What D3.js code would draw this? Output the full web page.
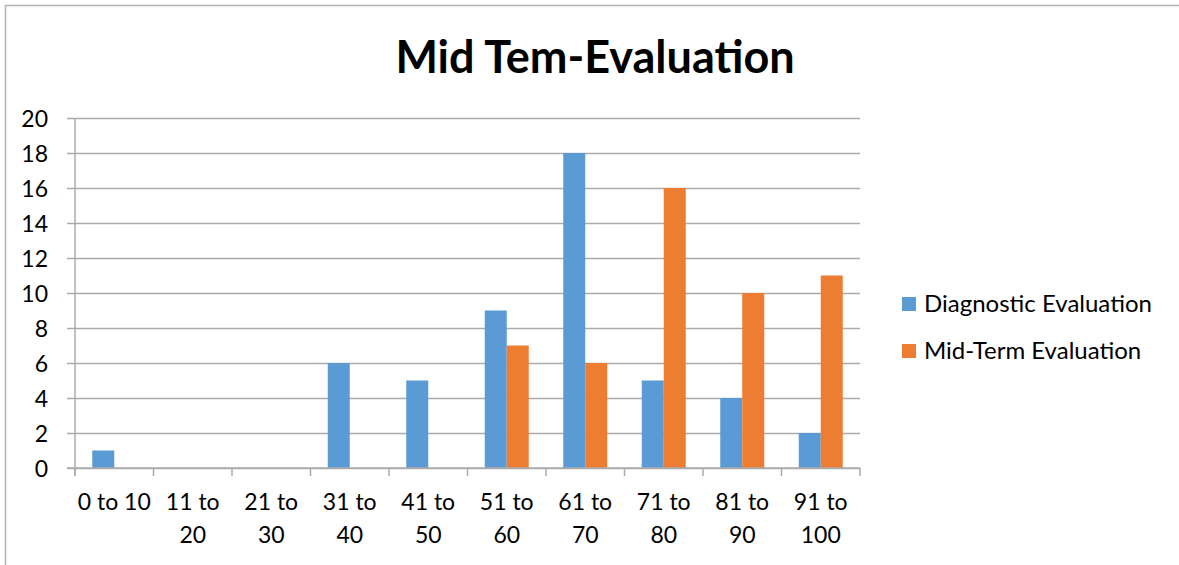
<!DOCTYPE html>
<html>
<head>
<meta charset="utf-8">
<script src="https://cdn.jsdelivr.net/npm/d3@7/dist/d3.min.js"></script>
<style>
  html, body { margin: 0; padding: 0; background: #fff; }
  svg { display: block; font-family: Lato, "Open Sans", sans-serif; }
</style>
</head>
<body>
<svg id="chart" width="1179" height="565"></svg>
<script>
// Score bands and the number of students in each
const categories = ["0 to 10", "11 to 20", "21 to 30", "31 to 40", "41 to 50",
                    "51 to 60", "61 to 70", "71 to 80", "81 to 90", "91 to 100"];
const diagnostic = [1, 0, 0, 6, 5, 9, 18, 5, 4, 2];
const midTerm    = [0, 0, 0, 0, 0, 7, 6, 16, 10, 11];
const seriesNames = ["Diagnostic Evaluation", "Mid-Term Evaluation"];
const seriesColors = ["#5B9BD5", "#ED7D31"];
const yTicks = [0, 2, 4, 6, 8, 10, 12, 14, 16, 18, 20];

const svg = d3.select("#chart");
const plot = { left: 75, right: 860, top: 118, bottom: 468 };

// Outer chart frame (top and left edges visible)
svg.append("path")
  .attr("d", "M5.5,565 V5.5 H1179")
  .attr("fill", "none")
  .attr("stroke", "#b3b3b3")
  .attr("stroke-width", 1.5);

// Title
svg.append("text")
  .attr("x", 595)
  .attr("y", 73)
  .attr("text-anchor", "middle")
  .attr("font-size", 45)
  .attr("font-weight", 700)
  .attr("fill", "#000")
  .text("Mid Tem-Evaluation");

const x0 = d3.scaleBand().domain(categories).range([plot.left, plot.right]).padding(0);
const x1 = d3.scaleBand().domain(seriesNames)
  .range([17.25, x0.bandwidth() - 17.25]).padding(0);
const y = d3.scaleLinear().domain([0, 20]).range([plot.bottom, plot.top]);

// Horizontal gridlines with outward ticks
const yAxis = svg.append("g")
  .attr("transform", `translate(${plot.left},0)`)
  .call(d3.axisLeft(y).tickValues(yTicks).tickSize(-(plot.right - plot.left)).tickSizeOuter(0).tickPadding(27));
yAxis.select(".domain").remove();
yAxis.selectAll(".tick line")
  .attr("x1", -8)
  .attr("stroke", "#ababab")
  .attr("stroke-width", 1.5);
yAxis.selectAll(".tick text")
  .attr("font-size", 23)
  .attr("font-family", "Lato, sans-serif")
  .attr("fill", "#000")
  .attr("dy", "0.35em");

// Vertical axis line
svg.append("line")
  .attr("x1", plot.left).attr("x2", plot.left)
  .attr("y1", plot.top).attr("y2", plot.bottom + 8)
  .attr("stroke", "#ababab").attr("stroke-width", 1.5);

// Bars
const rows = categories.map((c, i) => ({ cat: c, values: [diagnostic[i], midTerm[i]] }));
const groups = svg.append("g").selectAll("g")
  .data(rows).join("g")
  .attr("transform", d => `translate(${x0(d.cat)},0)`);
groups.selectAll("rect")
  .data(d => d.values.map((v, k) => ({ name: seriesNames[k], value: v, color: seriesColors[k] })))
  .join("rect")
  .attr("x", d => x1(d.name))
  .attr("width", x1.bandwidth())
  .attr("y", d => y(d.value))
  .attr("height", d => y(0) - y(d.value))
  .attr("fill", d => d.color);

// Category axis: baseline and tick marks at band edges
svg.append("line")
  .attr("x1", plot.left - 8).attr("x2", plot.right)
  .attr("y1", plot.bottom).attr("y2", plot.bottom)
  .attr("stroke", "#ababab").attr("stroke-width", 1.5);
const edges = categories.map(c => x0(c)).concat([x0.range()[1]]);
svg.append("g").selectAll("line")
  .data(edges).join("line")
  .attr("x1", d => d).attr("x2", d => d)
  .attr("y1", plot.bottom).attr("y2", plot.bottom + 8)
  .attr("stroke", "#ababab").attr("stroke-width", 1.5);

// Category labels, wrapped to two lines where needed
const labelLines = c => c === "0 to 10" ? [c] : [c.replace(/ \d+$/, ""), c.match(/\d+$/)[0]];
svg.append("g").selectAll("text")
  .data(categories).join("text")
  .attr("x", d => x0(d) + x0.bandwidth() / 2)
  .attr("y", 510)
  .attr("text-anchor", "middle")
  .attr("font-size", 23)
  .attr("fill", "#000")
  .each(function (d) {
    const t = d3.select(this);
    labelLines(d).forEach((line, i) => {
      t.append("tspan").attr("x", x0(d) + x0.bandwidth() / 2).attr("dy", i === 0 ? 0 : 33).text(line);
    });
  });

// Legend
const legend = svg.append("g").selectAll("g")
  .data(seriesNames).join("g")
  .attr("transform", (d, i) => `translate(902,${297 + i * 47})`);
legend.append("rect")
  .attr("width", 14).attr("height", 14)
  .attr("fill", (d, i) => seriesColors[i]);
legend.append("text")
  .attr("x", 22).attr("y", 14.5)
  .attr("font-size", 24)
  .attr("fill", "#000")
  .text(d => d);
</script>
</body>
</html>
